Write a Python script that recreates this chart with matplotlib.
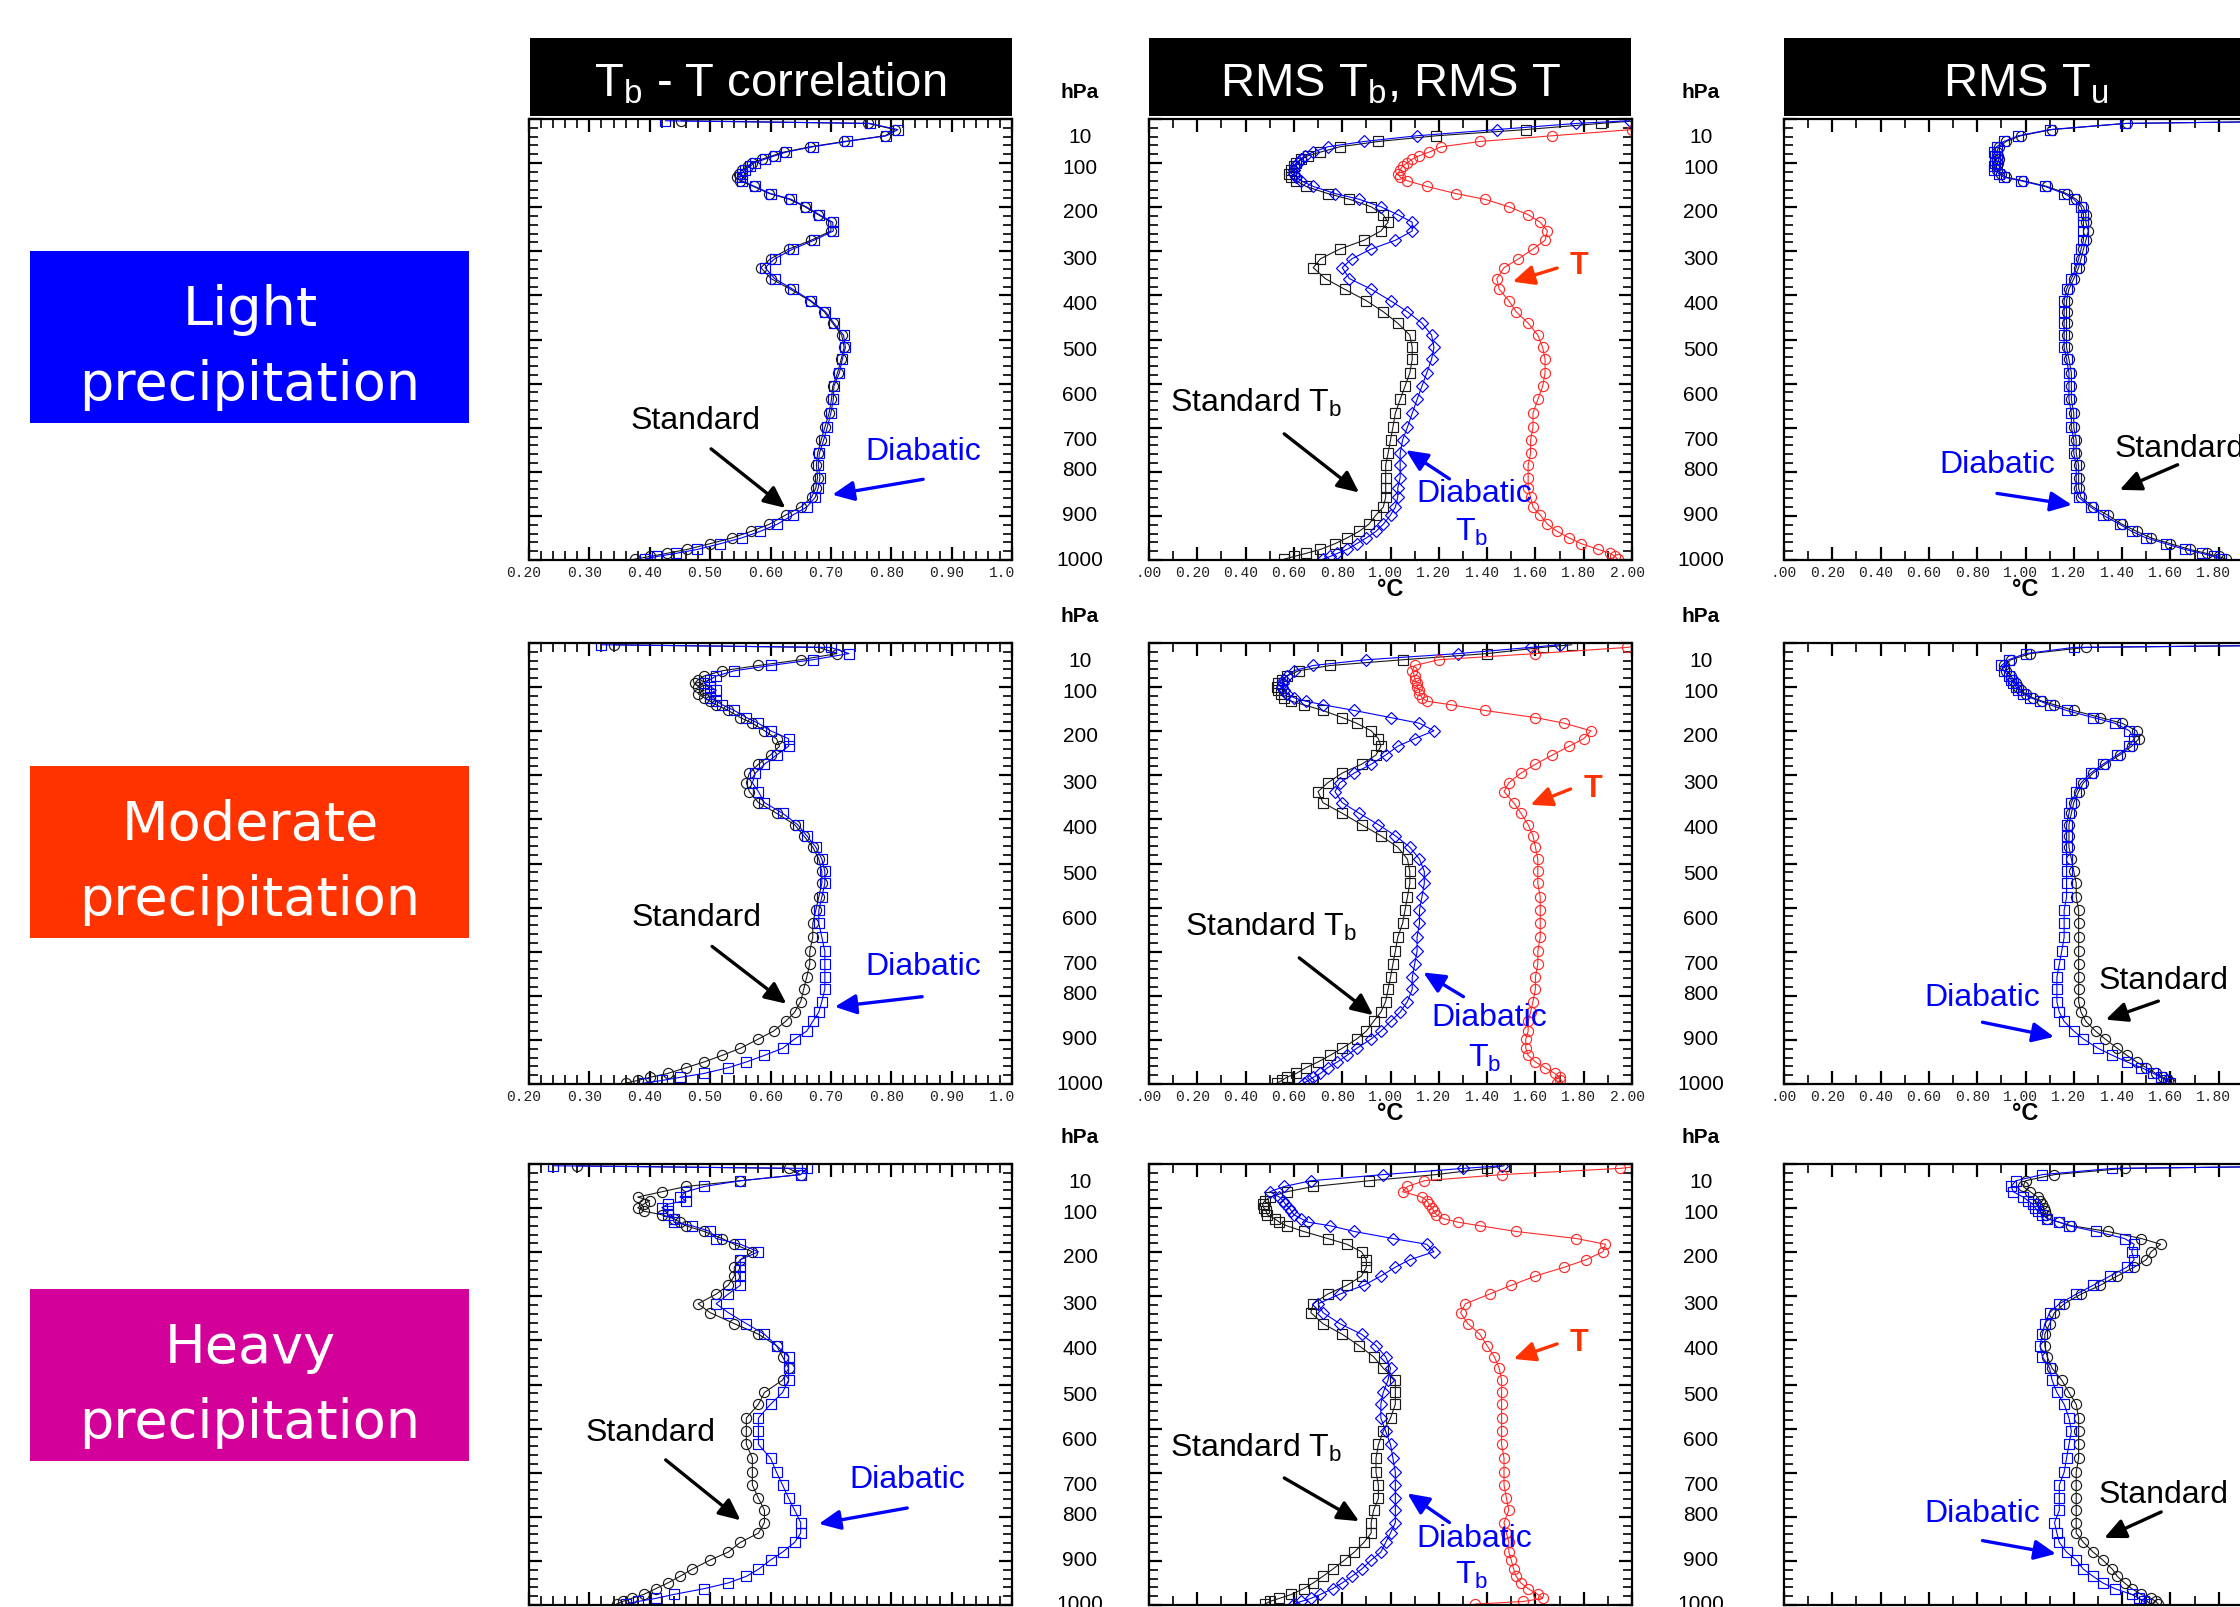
import matplotlib
matplotlib.use('Agg')
import matplotlib.pyplot as plt
import matplotlib.transforms as mtrans
from matplotlib.patches import Rectangle
from matplotlib.ticker import MultipleLocator

plt.rcParams['font.family'] = ['Liberation Sans', 'DejaVu Sans']
plt.rcParams['mathtext.fontset'] = 'custom'
plt.rcParams['mathtext.rm'] = 'Liberation Sans'
plt.rcParams['mathtext.it'] = 'Liberation Sans:italic'
plt.rcParams['mathtext.bf'] = 'Liberation Sans:bold'
plt.rcParams['mathtext.default'] = 'regular'

# ---------------- data ----------------
levels = [4, 10, 24, 38, 51, 63, 75, 83, 91, 99, 107, 115, 124, 132, 140,
          153, 169, 182, 199, 217, 234, 254, 275, 295, 317, 337, 362, 386, 412, 437,
          463, 490, 518, 545, 576, 606, 636, 667, 699, 728, 758, 785, 813, 837, 858,
          880, 898, 919, 935, 950, 963, 976, 985, 992, 998]

# Tb - T correlation
light_corr_std = [0.452, 0.762, 0.806, 0.790, 0.722, 0.666, 0.622, 0.604, 0.586, 0.570,
                  0.562, 0.553, 0.548, 0.545, 0.550, 0.572, 0.598, 0.631, 0.657, 0.679,
                  0.700, 0.700, 0.667, 0.630, 0.600, 0.584, 0.601, 0.633, 0.665, 0.689,
                  0.703, 0.718, 0.722, 0.717, 0.711, 0.703, 0.701, 0.697, 0.690, 0.684,
                  0.678, 0.676, 0.678, 0.675, 0.668, 0.650, 0.625, 0.598, 0.568, 0.536,
                  0.500, 0.462, 0.428, 0.400, 0.375]
light_corr_dia = [0.426, 0.764, 0.811, 0.792, 0.726, 0.670, 0.626, 0.608, 0.591, 0.574,
                  0.566, 0.558, 0.552, 0.549, 0.552, 0.574, 0.600, 0.634, 0.659, 0.681,
                  0.703, 0.704, 0.672, 0.637, 0.607, 0.591, 0.607, 0.637, 0.667, 0.691,
                  0.705, 0.721, 0.724, 0.719, 0.714, 0.705, 0.704, 0.700, 0.694, 0.688,
                  0.681, 0.679, 0.682, 0.679, 0.674, 0.660, 0.637, 0.611, 0.583, 0.552,
                  0.517, 0.479, 0.443, 0.412, 0.392]
mod_corr_std = [0.34, 0.68, 0.71, 0.65, 0.58, 0.52, 0.49, 0.48, 0.475, 0.48,
                0.49, 0.48, 0.49, 0.50, 0.51, 0.53, 0.55, 0.57, 0.59, 0.61,
                0.615, 0.60, 0.58, 0.565, 0.56, 0.565, 0.58, 0.61, 0.64, 0.655,
                0.67, 0.68, 0.685, 0.685, 0.68, 0.675, 0.67, 0.67, 0.665, 0.665,
                0.66, 0.655, 0.65, 0.64, 0.625, 0.605, 0.58, 0.55, 0.52, 0.49,
                0.46, 0.43, 0.40, 0.38, 0.36]
mod_corr_dia = [0.32, 0.70, 0.73, 0.67, 0.60, 0.54, 0.51, 0.50, 0.49, 0.50,
                0.51, 0.50, 0.50, 0.51, 0.52, 0.54, 0.56, 0.58, 0.60, 0.63,
                0.63, 0.61, 0.59, 0.575, 0.57, 0.58, 0.59, 0.62, 0.645, 0.66,
                0.675, 0.685, 0.69, 0.69, 0.685, 0.68, 0.68, 0.685, 0.69, 0.69,
                0.69, 0.69, 0.685, 0.68, 0.67, 0.66, 0.64, 0.62, 0.59, 0.56,
                0.53, 0.49, 0.45, 0.42, 0.39]
heavy_corr_std = [0.28, 0.63, 0.65, 0.55, 0.46, 0.42, 0.38, 0.40, 0.39, 0.38,
                  0.39, 0.42, 0.44, 0.45, 0.46, 0.49, 0.52, 0.54, 0.57, 0.55,
                  0.54, 0.54, 0.53, 0.51, 0.48, 0.50, 0.54, 0.58, 0.61, 0.62,
                  0.63, 0.62, 0.59, 0.58, 0.56, 0.56, 0.56, 0.57, 0.57, 0.57,
                  0.58, 0.59, 0.59, 0.58, 0.55, 0.53, 0.50, 0.47, 0.45, 0.43,
                  0.41, 0.39, 0.37, 0.355, 0.345]
heavy_corr_dia = [0.24, 0.66, 0.65, 0.55, 0.49, 0.46, 0.45, 0.46, 0.43, 0.42,
                  0.43, 0.43, 0.44, 0.44, 0.47, 0.50, 0.51, 0.55, 0.58, 0.55,
                  0.55, 0.55, 0.55, 0.53, 0.51, 0.53, 0.56, 0.59, 0.61, 0.63,
                  0.63, 0.63, 0.62, 0.60, 0.58, 0.58, 0.58, 0.60, 0.61, 0.62,
                  0.63, 0.64, 0.65, 0.65, 0.64, 0.62, 0.60, 0.58, 0.56, 0.53,
                  0.49, 0.44, 0.41, 0.38, 0.36]

# RMS Tb (standard, diabatic) and RMS T
light_rms_std = [2.02, 1.87, 1.56, 1.19, 0.95, 0.79, 0.71, 0.66, 0.63, 0.61,
                 0.60, 0.59, 0.58, 0.59, 0.61, 0.65, 0.74, 0.83, 0.92, 0.97,
                 0.99, 0.96, 0.89, 0.79, 0.71, 0.68, 0.73, 0.81, 0.90, 0.97,
                 1.03, 1.08, 1.09, 1.09, 1.08, 1.06, 1.04, 1.02, 1.01, 1.00,
                 0.99, 0.98, 0.98, 0.98, 0.98, 0.97, 0.94, 0.91, 0.87, 0.82,
                 0.77, 0.71, 0.65, 0.60, 0.56]
light_rms_dia = [1.99, 1.77, 1.44, 1.11, 0.89, 0.74, 0.68, 0.645, 0.63, 0.615,
                 0.605, 0.60, 0.60, 0.61, 0.63, 0.68, 0.77, 0.87, 0.96, 1.03,
                 1.09, 1.09, 1.02, 0.92, 0.84, 0.80, 0.83, 0.92, 1.00, 1.07,
                 1.13, 1.17, 1.18, 1.17, 1.15, 1.13, 1.11, 1.09, 1.07, 1.05,
                 1.04, 1.04, 1.04, 1.03, 1.03, 1.02, 1.00, 0.97, 0.94, 0.90,
                 0.86, 0.82, 0.78, 0.75, 0.72]
light_rms_T = [2.30, 2.15, 2.00, 1.67, 1.37, 1.21, 1.16, 1.12, 1.09, 1.07,
               1.05, 1.04, 1.03, 1.04, 1.07, 1.15, 1.27, 1.39, 1.49, 1.57,
               1.62, 1.65, 1.64, 1.59, 1.53, 1.47, 1.44, 1.45, 1.49, 1.52,
               1.57, 1.61, 1.63, 1.64, 1.64, 1.63, 1.61, 1.59, 1.59, 1.58,
               1.58, 1.57, 1.57, 1.57, 1.58, 1.59, 1.62, 1.65, 1.69, 1.74,
               1.79, 1.86, 1.91, 1.93, 1.94]
mod_rms_std = [1.75, 1.63, 1.40, 1.05, 0.75, 0.62, 0.57, 0.55, 0.535, 0.53,
               0.535, 0.545, 0.56, 0.59, 0.64, 0.72, 0.80, 0.86, 0.92, 0.95,
               0.96, 0.94, 0.88, 0.80, 0.74, 0.70, 0.72, 0.80, 0.88, 0.96,
               1.03, 1.07, 1.08, 1.08, 1.07, 1.06, 1.05, 1.03, 1.02, 1.01,
               1.00, 0.99, 0.98, 0.96, 0.93, 0.90, 0.86, 0.80, 0.75, 0.70,
               0.65, 0.61, 0.57, 0.55, 0.53]
mod_rms_dia = [1.70, 1.58, 1.28, 0.90, 0.68, 0.60, 0.57, 0.56, 0.555, 0.55,
               0.56, 0.57, 0.60, 0.65, 0.72, 0.85, 1.00, 1.12, 1.18, 1.10,
               1.03, 0.98, 0.92, 0.85, 0.79, 0.77, 0.80, 0.87, 0.95, 1.02,
               1.08, 1.12, 1.14, 1.14, 1.13, 1.12, 1.12, 1.11, 1.11, 1.10,
               1.09, 1.09, 1.07, 1.04, 1.00, 0.96, 0.92, 0.86, 0.82, 0.78,
               0.74, 0.71, 0.68, 0.66, 0.64]
mod_rms_T = [2.05, 1.98, 1.60, 1.20, 1.10, 1.09, 1.10, 1.10, 1.11, 1.11,
             1.12, 1.12, 1.13, 1.15, 1.25, 1.39, 1.60, 1.72, 1.83, 1.80,
             1.74, 1.67, 1.60, 1.54, 1.49, 1.47, 1.51, 1.54, 1.57, 1.59,
             1.60, 1.61, 1.61, 1.61, 1.62, 1.62, 1.62, 1.62, 1.61, 1.61,
             1.60, 1.60, 1.59, 1.58, 1.57, 1.57, 1.56, 1.56, 1.57, 1.60,
             1.64, 1.68, 1.70, 1.70, 1.69]
heavy_rms_std = [1.47, 1.40, 1.19, 0.91, 0.68, 0.57, 0.50, 0.48, 0.47, 0.475,
                 0.485, 0.49, 0.52, 0.54, 0.57, 0.64, 0.74, 0.82, 0.88, 0.90,
                 0.90, 0.88, 0.82, 0.74, 0.68, 0.67, 0.72, 0.80, 0.87, 0.93,
                 0.97, 1.02, 1.02, 1.02, 1.00, 0.97, 0.95, 0.94, 0.94, 0.95,
                 0.95, 0.93, 0.92, 0.92, 0.89, 0.85, 0.81, 0.76, 0.72, 0.68,
                 0.64, 0.59, 0.54, 0.50, 0.48]
heavy_rms_dia = [1.46, 1.30, 0.97, 0.67, 0.56, 0.50, 0.54, 0.555, 0.565, 0.58,
                 0.59, 0.60, 0.63, 0.66, 0.75, 0.85, 1.01, 1.15, 1.18, 1.08,
                 1.02, 0.96, 0.89, 0.79, 0.70, 0.72, 0.79, 0.88, 0.94, 0.98,
                 1.00, 0.99, 0.97, 0.96, 0.96, 0.98, 1.00, 1.01, 1.02, 1.02,
                 1.02, 1.02, 1.02, 1.00, 0.98, 0.96, 0.92, 0.88, 0.84, 0.80,
                 0.76, 0.71, 0.67, 0.63, 0.60]
heavy_rms_T = [2.05, 1.95, 1.46, 1.14, 1.07, 1.05, 1.13, 1.15, 1.16, 1.17,
               1.18, 1.19, 1.22, 1.28, 1.37, 1.52, 1.77, 1.89, 1.88, 1.81,
               1.72, 1.60, 1.50, 1.41, 1.31, 1.29, 1.32, 1.37, 1.40, 1.43,
               1.45, 1.46, 1.46, 1.46, 1.46, 1.46, 1.46, 1.47, 1.47, 1.47,
               1.48, 1.49, 1.47, 1.48, 1.49, 1.49, 1.50, 1.51, 1.52, 1.54,
               1.57, 1.61, 1.63, 1.55, 1.35]

# RMS Tu (standard, diabatic)
light_tu_std = [2.30, 1.42, 1.11, 0.98, 0.92, 0.89, 0.88, 0.885, 0.89, 0.885,
                0.88, 0.88, 0.90, 0.92, 0.99, 1.09, 1.17, 1.21, 1.24, 1.25,
                1.25, 1.26, 1.25, 1.24, 1.23, 1.22, 1.20, 1.18, 1.17, 1.17,
                1.17, 1.17, 1.17, 1.18, 1.19, 1.19, 1.19, 1.20, 1.20, 1.21,
                1.21, 1.22, 1.22, 1.22, 1.23, 1.28, 1.34, 1.40, 1.46, 1.52,
                1.60, 1.68, 1.75, 1.80, 1.83]
light_tu_dia = [2.30, 1.41, 1.10, 0.97, 0.91, 0.88, 0.87, 0.875, 0.88, 0.875,
                0.87, 0.87, 0.89, 0.91, 0.98, 1.08, 1.16, 1.20, 1.23, 1.24,
                1.24, 1.24, 1.24, 1.23, 1.22, 1.21, 1.19, 1.17, 1.16, 1.16,
                1.16, 1.16, 1.16, 1.17, 1.18, 1.18, 1.18, 1.19, 1.19, 1.20,
                1.20, 1.21, 1.21, 1.21, 1.22, 1.27, 1.32, 1.39, 1.44, 1.50,
                1.58, 1.66, 1.73, 1.78, 1.81]
mod_tu_std = [2.30, 1.25, 1.02, 0.94, 0.91, 0.92, 0.94, 0.95, 0.96, 0.97,
              0.98, 1.00, 1.03, 1.07, 1.12, 1.20, 1.31, 1.40, 1.46, 1.47,
              1.44, 1.39, 1.33, 1.28, 1.24, 1.22, 1.20, 1.19, 1.18, 1.18,
              1.18, 1.19, 1.20, 1.21, 1.21, 1.22, 1.22, 1.22, 1.22, 1.22,
              1.22, 1.22, 1.22, 1.23, 1.25, 1.29, 1.33, 1.38, 1.42, 1.46,
              1.50, 1.54, 1.57, 1.59, 1.60]
mod_tu_dia = [2.30, 1.20, 1.00, 0.93, 0.90, 0.91, 0.93, 0.94, 0.95, 0.96,
              0.97, 0.99, 1.02, 1.06, 1.10, 1.17, 1.28, 1.37, 1.43, 1.45,
              1.43, 1.38, 1.32, 1.27, 1.23, 1.21, 1.19, 1.18, 1.17, 1.17,
              1.17, 1.17, 1.17, 1.17, 1.17, 1.16, 1.16, 1.16, 1.15, 1.14,
              1.13, 1.13, 1.13, 1.14, 1.16, 1.20, 1.24, 1.30, 1.36, 1.42,
              1.48, 1.53, 1.56, 1.58, 1.60]
heavy_tu_std = [2.30, 1.41, 1.12, 1.00, 0.99, 1.02, 1.05, 1.06, 1.07, 1.075,
                1.08, 1.085, 1.09, 1.14, 1.19, 1.34, 1.48, 1.56, 1.52, 1.50,
                1.45, 1.38, 1.31, 1.23, 1.16, 1.12, 1.10, 1.08, 1.08, 1.09,
                1.11, 1.15, 1.18, 1.21, 1.22, 1.22, 1.22, 1.22, 1.21, 1.21,
                1.21, 1.21, 1.21, 1.21, 1.24, 1.28, 1.32, 1.36, 1.38, 1.41,
                1.44, 1.48, 1.52, 1.54, 1.55]
heavy_tu_dia = [2.30, 1.36, 1.07, 0.96, 0.94, 0.95, 0.99, 1.01, 1.03, 1.04,
                1.05, 1.07, 1.09, 1.14, 1.18, 1.29, 1.41, 1.45, 1.44, 1.45,
                1.42, 1.35, 1.28, 1.21, 1.14, 1.10, 1.08, 1.07, 1.06, 1.07,
                1.10, 1.11, 1.13, 1.16, 1.18, 1.19, 1.18, 1.17, 1.16, 1.14,
                1.14, 1.14, 1.12, 1.13, 1.14, 1.17, 1.21, 1.24, 1.28, 1.32,
                1.37, 1.44, 1.47, 1.49, 1.50]

row_names = [['Light', 'precipitation'], ['Moderate', 'precipitation'], ['Heavy', 'precipitation']]
row_colors = ['#0000ff', '#ff3300', '#d4009a']
col_titles = ['T$_b$ - T correlation', 'RMS T$_b$, RMS T', 'RMS T$_u$']
press_labels = ['10', '100', '200', '300', '400', '500', '600', '700', '800', '900', '1000']
press_label_pos = [43, 113, 213, 318, 420, 525, 627, 730, 797, 900, 1000]
corr_ticks = [0.2, 0.3, 0.4, 0.5, 0.6, 0.7, 0.8, 0.9, 1.0]
corr_ticklabels = ['0.20', '0.30', '0.40', '0.50', '0.60', '0.70', '0.80', '0.90', '1.0']
rms_ticks = [0.0, 0.2, 0.4, 0.6, 0.8, 1.0, 1.2, 1.4, 1.6, 1.8, 2.0]
rms_ticklabels = ['.00', '0.20', '0.40', '0.60', '0.80', '1.00', '1.20', '1.40', '1.60', '1.80', '2.00']

corr_data = [(light_corr_std, light_corr_dia), (mod_corr_std, mod_corr_dia), (heavy_corr_std, heavy_corr_dia)]
rms_data = [(light_rms_std, light_rms_dia, light_rms_T), (mod_rms_std, mod_rms_dia, mod_rms_T),
            (heavy_rms_std, heavy_rms_dia, heavy_rms_T)]
tu_data = [(light_tu_std, light_tu_dia), (mod_tu_std, mod_tu_dia), (heavy_tu_std, heavy_tu_dia)]

# ---------------- layout ----------------
W, H = 2240, 1607
fig = plt.figure(figsize=(W / 100, H / 100), dpi=100)
ov = fig.add_axes([0, 0, 1, 1])
ov.set_xlim(0, W)
ov.set_ylim(H, 0)
ov.axis('off')

col_left = [529, 1149, 1784]
PW = 483
row_top = [119, 643, 1164]
PH = 441

BLUE = '#0000ff'
RED = '#ff2a2a'
ORANGE = '#ff3300'
BLK = '#1a1a1a'

# headers
for c in range(3):
    x0 = col_left[c] + (1 if c == 0 else 0)
    w = PW - 1 if c < 2 else PW + 10
    ov.add_patch(Rectangle((x0, 38), w, 78, color='black', lw=0))
    ov.text(col_left[c] + PW / 2, 97, col_titles[c], color='white', fontsize=34,
            ha='center', va='baseline')

# category boxes
box_tops = [251, 766, 1289]
for r in range(3):
    ov.add_patch(Rectangle((30, box_tops[r]), 439, 172, color=row_colors[r], lw=0))
    ov.text(250, box_tops[r] + 74, row_names[r][0], color='white', fontsize=39,
            family='DejaVu Sans', ha='center', va='baseline')
    ov.text(250, box_tops[r] + 149, row_names[r][1], color='white', fontsize=39,
            family='DejaVu Sans', ha='center', va='baseline')


def make_panel(r, c, xlim, major, minor):
    ax = fig.add_axes([col_left[c] / W, 1 - (row_top[r] + PH) / H, PW / W, PH / H])
    ax.set_xlim(*xlim)
    ax.set_ylim(1000, 0)
    ax.xaxis.set_major_locator(MultipleLocator(major))
    ax.xaxis.set_minor_locator(MultipleLocator(minor))
    ax.yaxis.set_major_locator(MultipleLocator(100))
    ax.yaxis.set_minor_locator(MultipleLocator(20))
    ax.tick_params(which='both', direction='in', top=True, right=True,
                   labelbottom=False, labelleft=False, color='black')
    ax.tick_params(which='major', length=9.5, width=1.6)
    ax.tick_params(which='minor', length=6.5, width=1.2)
    for s in ax.spines.values():
        s.set_linewidth(1.6)
    return ax


def xlabels(ax, ticks, labels):
    tr = mtrans.blended_transform_factory(ax.transData, ax.transAxes)
    for v, s in zip(ticks, labels):
        if s == '1.0':
            ha, dx = 'left', -16.4
        elif s == '.00':
            ha, dx = 'left', -10.0
        else:
            ha, dx = 'center', -3.6
        ax.annotate(s, (v, 0), xycoords=tr, xytext=(dx, -4), textcoords='offset points',
                    ha=ha, va='top', family='Liberation Mono', fontsize=10.5,
                    color='#222222', annotation_clip=False)


def arrow(ax, tail, head, color):
    ax.annotate('', xy=head, xytext=tail, xycoords='axes fraction', textcoords='axes fraction',
                arrowprops=dict(arrowstyle='-|>,head_length=0.65,head_width=0.3', lw=2.4,
                                color=color, shrinkA=0, shrinkB=0, mutation_scale=20),
                annotation_clip=False)


def press_column(ax, xfrac):
    tr = mtrans.blended_transform_factory(ax.transAxes, ax.transData)
    for lab, pos in zip(press_labels, press_label_pos):
        ax.text(xfrac, pos, lab, transform=tr, ha='center', va='center', fontsize=15,
                clip_on=False)
    ax.text(xfrac, 1.059, 'hPa', transform=ax.transAxes, ha='center', va='center',
            fontsize=15, fontweight='bold', clip_on=False)


mk = dict(mfc='none', mew=0.85, lw=0.8)
MS = 7.3

# annotation positions (axes fraction) per row
corr_ann = [
    dict(std=(0.345, 0.315), stail=(0.377, 0.252), shead=(0.531, 0.118),
         dia=(0.816, 0.244), dtail=(0.816, 0.183), dhead=(0.628, 0.148)),
    dict(std=(0.346, 0.377), stail=(0.379, 0.312), shead=(0.533, 0.182),
         dia=(0.817, 0.266), dtail=(0.814, 0.198), dhead=(0.633, 0.175)),
    dict(std=(0.251, 0.391), stail=(0.283, 0.329), shead=(0.438, 0.192),
         dia=(0.784, 0.283), dtail=(0.783, 0.220), dhead=(0.600, 0.184)),
]
rms_ann = [
    dict(std=(0.044, 0.356), stail=(0.280, 0.286), shead=(0.435, 0.153),
         dia=(0.674, 0.150), tb=(0.669, 0.062), dtail=(0.622, 0.184), dhead=(0.532, 0.249),
         T=(0.890, 0.667), ttail=(0.845, 0.662), thead=(0.753, 0.631)),
    dict(std=(0.074, 0.357), stail=(0.311, 0.286), shead=(0.464, 0.156),
         dia=(0.704, 0.149), tb=(0.695, 0.058), dtail=(0.651, 0.198), dhead=(0.568, 0.253),
         T=(0.920, 0.669), ttail=(0.873, 0.669), thead=(0.790, 0.633)),
    dict(std=(0.044, 0.355), stail=(0.280, 0.288), shead=(0.435, 0.190),
         dia=(0.674, 0.150), tb=(0.669, 0.067), dtail=(0.622, 0.187), dhead=(0.535, 0.253),
         T=(0.890, 0.594), ttail=(0.845, 0.592), thead=(0.755, 0.558)),
]
tu_ann = [
    dict(std=(0.685, 0.251), stail=(0.815, 0.216), shead=(0.695, 0.159),
         dia=(0.442, 0.216), dtail=(0.441, 0.151), dhead=(0.596, 0.125)),
    dict(std=(0.651, 0.234), stail=(0.775, 0.188), shead=(0.666, 0.146),
         dia=(0.411, 0.195), dtail=(0.411, 0.140), dhead=(0.559, 0.107)),
    dict(std=(0.652, 0.249), stail=(0.781, 0.211), shead=(0.663, 0.152),
         dia=(0.410, 0.207), dtail=(0.411, 0.146), dhead=(0.563, 0.116)),
]

FS = 23
for r in range(3):
    # column 1: correlation
    ax = make_panel(r, 0, (0.2, 1.0), 0.1, 0.02)
    std, dia = corr_data[r]
    ax.plot(std, levels, color=BLK, marker='o', ms=MS, **mk)
    ax.plot(dia, levels, color=BLUE, marker='s', ms=MS, **mk)
    xlabels(ax, corr_ticks, corr_ticklabels)
    a = corr_ann[r]
    ax.text(*a['std'], 'Standard', transform=ax.transAxes, ha='center', va='center', fontsize=FS)
    arrow(ax, a['stail'], a['shead'], 'black')
    ax.text(*a['dia'], 'Diabatic', transform=ax.transAxes, ha='center', va='center',
            fontsize=FS, color=BLUE)
    arrow(ax, a['dtail'], a['dhead'], BLUE)

    # column 2: RMS Tb, RMS T
    ax = make_panel(r, 1, (0.0, 2.0), 0.2, 0.1)
    std, dia, tt = rms_data[r]
    ax.plot(std, levels, color=BLK, marker='s', ms=MS, **mk)
    ax.plot(dia, levels, color=BLUE, marker='D', ms=6.4, **mk)
    ax.plot(tt, levels, color=RED, marker='o', ms=MS, **mk)
    xlabels(ax, rms_ticks, rms_ticklabels)
    press_column(ax, (1080 - col_left[1]) / PW)
    ax.text(0.5, -0.068, '°C', transform=ax.transAxes, ha='center', va='center',
            fontsize=17, fontweight='bold', clip_on=False)
    a = rms_ann[r]
    ax.text(*a['std'], 'Standard T$_b$', transform=ax.transAxes, ha='left', va='center',
            fontsize=FS)
    arrow(ax, a['stail'], a['shead'], 'black')
    ax.text(*a['dia'], 'Diabatic', transform=ax.transAxes, ha='center', va='center',
            fontsize=FS, color=BLUE)
    ax.text(*a['tb'], 'T$_b$', transform=ax.transAxes, ha='center', va='center',
            fontsize=FS, color=BLUE)
    arrow(ax, a['dtail'], a['dhead'], BLUE)
    ax.text(*a['T'], 'T', transform=ax.transAxes, ha='center', va='center', fontsize=22,
            fontweight='bold', color=ORANGE)
    arrow(ax, a['ttail'], a['thead'], ORANGE)

    # column 3: RMS Tu
    ax = make_panel(r, 2, (0.0, 2.0), 0.2, 0.1)
    std, dia = tu_data[r]
    ax.plot(std, levels, color=BLK, marker='o', ms=MS, **mk)
    ax.plot(dia, levels, color=BLUE, marker='s', ms=MS, **mk)
    xlabels(ax, rms_ticks, rms_ticklabels)
    press_column(ax, (1701 - col_left[2]) / PW)
    ax.text(0.5, -0.068, '°C', transform=ax.transAxes, ha='center', va='center',
            fontsize=17, fontweight='bold', clip_on=False)
    a = tu_ann[r]
    ax.text(*a['std'], 'Standard', transform=ax.transAxes, ha='left', va='center', fontsize=FS)
    arrow(ax, a['stail'], a['shead'], 'black')
    ax.text(*a['dia'], 'Diabatic', transform=ax.transAxes, ha='center', va='center',
            fontsize=FS, color=BLUE)
    arrow(ax, a['dtail'], a['dhead'], BLUE)

fig.savefig('out.png', dpi=100)
